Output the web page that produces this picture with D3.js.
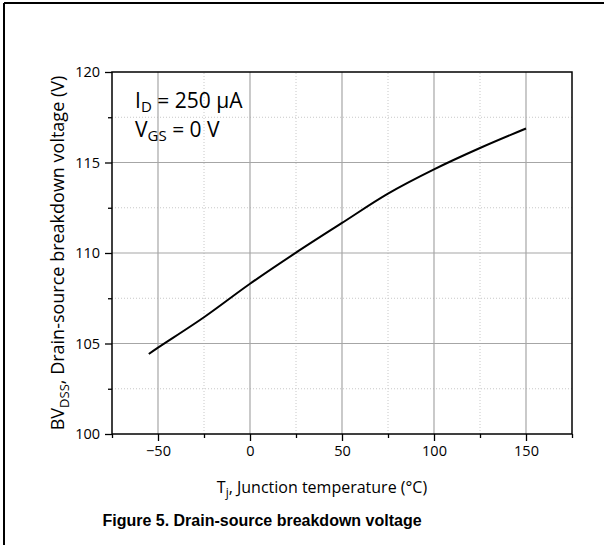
<!DOCTYPE html>
<html>
<head>
<meta charset="utf-8">
<script src="https://cdn.jsdelivr.net/npm/d3@7"></script>
<style>
  body { margin: 0; background: #fff; }
  svg { font-family: 'Open Sans', sans-serif; }
  text { fill: #000; white-space: pre; }
</style>
</head>
<body>
<div id="chart"></div>
<script>
var temps = [-55, -50, -25, 0, 25, 50, 75, 100, 125, 150]
var bvdss = [104.42, 104.77, 106.45, 108.3, 110.02, 111.66, 113.28, 114.62, 115.8, 116.88]

var xMajor = [-50, 0, 50, 100, 150]
var xMinor = [-75, -25, 25, 75, 125, 175]
var yMajor = [100, 105, 110, 115, 120]
var yMinor = [102.5, 107.5, 112.5, 117.5]

var width = 604
var height = 545
var margin = { top: 72, left: 112, right: 32, bottom: 111 }

var svg = d3
  .select('#chart')
  .append('svg')
  .attr('width', width)
  .attr('height', height)

// outer figure frame (top and left edges only visible)
svg.append('line')
  .attr('x1', 4).attr('y1', 3).attr('x2', width).attr('y2', 3)
  .attr('stroke', '#000').attr('stroke-width', 2)
svg.append('line')
  .attr('x1', 4).attr('y1', 3).attr('x2', 4).attr('y2', height)
  .attr('stroke', '#000').attr('stroke-width', 2)

var xScale = d3.scaleLinear()
  .domain([-75, 175])
  .range([margin.left, width - margin.right])

var yScale = d3.scaleLinear()
  .domain([100, 120])
  .range([height - margin.bottom, margin.top])

var plot = svg.append('g')

// minor grid (dotted)
plot.selectAll('.x-minor')
  .data(xMinor.filter(d => d > -75 && d < 175))
  .enter().append('line')
  .attr('x1', d => xScale(d)).attr('x2', d => xScale(d))
  .attr('y1', yScale(100)).attr('y2', yScale(120))
  .attr('stroke', '#c8c8c8').attr('stroke-dasharray', '1,2')

plot.selectAll('.y-minor')
  .data(yMinor)
  .enter().append('line')
  .attr('y1', d => yScale(d)).attr('y2', d => yScale(d))
  .attr('x1', xScale(-75)).attr('x2', xScale(175))
  .attr('stroke', '#c8c8c8').attr('stroke-dasharray', '1,2')

// major grid
plot.selectAll('.x-major')
  .data(xMajor)
  .enter().append('line')
  .attr('x1', d => xScale(d)).attr('x2', d => xScale(d))
  .attr('y1', yScale(100)).attr('y2', yScale(120))
  .attr('stroke', '#a6a6a6').attr('stroke-width', 1.2)

plot.selectAll('.y-major')
  .data(yMajor.filter(d => d > 100 && d < 120))
  .enter().append('line')
  .attr('y1', d => yScale(d)).attr('y2', d => yScale(d))
  .attr('x1', xScale(-75)).attr('x2', xScale(175))
  .attr('stroke', '#a6a6a6').attr('stroke-width', 1.2)

// curve
var line = d3.line()
  .x((d, i) => xScale(temps[i]))
  .y(d => yScale(d))
  .curve(d3.curveCatmullRom.alpha(0.5))

plot.append('path')
  .datum(bvdss)
  .attr('d', line)
  .attr('fill', 'none')
  .attr('stroke', '#000')
  .attr('stroke-width', 2)

// axes
var xAxis = d3.axisBottom(xScale).tickValues(xMajor).tickSize(7).tickPadding(5)
var xAxisMinor = d3.axisBottom(xScale).tickValues(xMinor).tickSize(4).tickFormat('')
var yAxis = d3.axisLeft(yScale).tickValues(yMajor).tickSize(7).tickPadding(5)
var yAxisMinor = d3.axisLeft(yScale).tickValues(yMinor).tickSize(4).tickFormat('')

function styleAxis(g) {
  g.attr('font-family', null).attr('font-size', null)
  g.select('.domain').remove()
  g.selectAll('line').attr('stroke', '#000').attr('stroke-width', 1.3)
  g.selectAll('text').style('font-size', '14.5px')
}

svg.append('g')
  .attr('transform', 'translate(0,' + yScale(100) + ')')
  .call(xAxis).call(styleAxis)
svg.append('g')
  .attr('transform', 'translate(0,' + yScale(100) + ')')
  .call(xAxisMinor).call(styleAxis)
svg.append('g')
  .attr('transform', 'translate(' + xScale(-75) + ',0)')
  .call(yAxis).call(styleAxis)
svg.append('g')
  .attr('transform', 'translate(' + xScale(-75) + ',0)')
  .call(yAxisMinor).call(styleAxis)

// plot frame
svg.append('rect')
  .attr('x', xScale(-75)).attr('y', yScale(120))
  .attr('width', xScale(175) - xScale(-75))
  .attr('height', yScale(100) - yScale(120))
  .attr('fill', 'none')
  .attr('stroke', '#000')
  .attr('stroke-width', 1.5)

// annotation
var note = svg.append('g').style('font-size', '21px')
var t1 = note.append('text').attr('x', 135).attr('y', 108)
t1.append('tspan').text('I')
t1.append('tspan').style('font-size', '15px').attr('dy', 4).text('D')
t1.append('tspan').attr('dy', -4).text('\u00a0= 250 µA')
var t2 = note.append('text').attr('x', 135).attr('y', 137)
t2.append('tspan').text('V')
t2.append('tspan').style('font-size', '15px').attr('dy', 4).text('GS')
t2.append('tspan').attr('dy', -4).text('\u00a0= 0 V')

// x title
var xt = svg.append('text')
  .attr('x', 322).attr('y', 493)
  .attr('text-anchor', 'middle')
  .style('font-size', '16px')
xt.append('tspan').text('T')
xt.append('tspan').style('font-size', '12px').attr('dy', 4).text('j')
xt.append('tspan').attr('dy', -4).text(', Junction temperature (°C)')

// y title
var yt = svg.append('text')
  .attr('transform', 'translate(64,' + (margin.top + (height - margin.top - margin.bottom) / 2) + ') rotate(-90)')
  .attr('text-anchor', 'middle')
  .style('font-size', '18px')
yt.append('tspan').text('BV')
yt.append('tspan').style('font-size', '13px').attr('dy', 5).text('DSS')
yt.append('tspan').attr('dy', -5).text(', Drain-source breakdown voltage (V)')

// figure caption
svg.append('text')
  .attr('x', 262).attr('y', 526)
  .attr('text-anchor', 'middle')
  .style('font-family', "'Liberation Sans', Arial, sans-serif")
  .style('font-weight', 'bold')
  .style('font-size', '16px')
  .text('Figure 5. Drain-source breakdown voltage')
</script>
</body>
</html>
